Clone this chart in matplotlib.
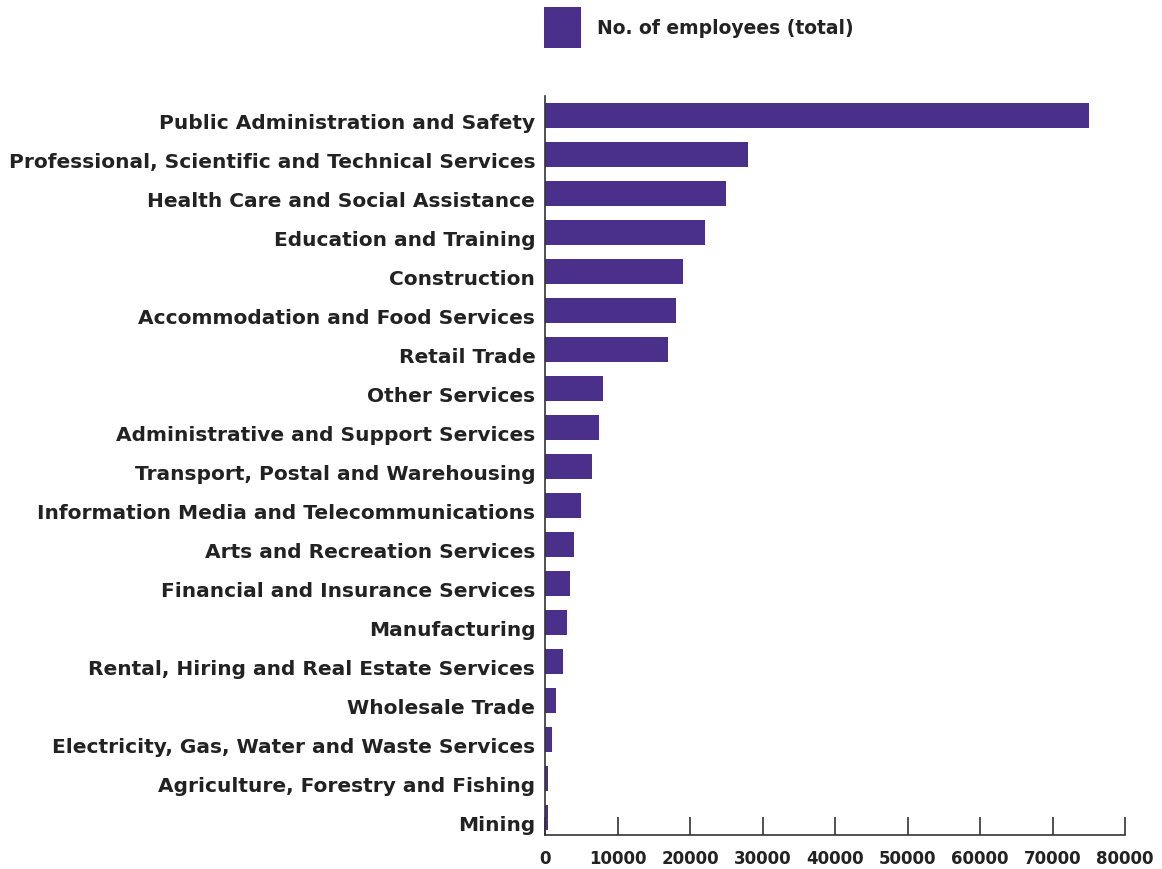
import matplotlib
matplotlib.use("Agg")
import matplotlib.pyplot as plt
import matplotlib.transforms as mtransforms

categories = [
    "Public Administration and Safety",
    "Professional, Scientific and Technical Services",
    "Health Care and Social Assistance",
    "Education and Training",
    "Construction",
    "Accommodation and Food Services",
    "Retail Trade",
    "Other Services",
    "Administrative and Support Services",
    "Transport, Postal and Warehousing",
    "Information Media and Telecommunications",
    "Arts and Recreation Services",
    "Financial and Insurance Services",
    "Manufacturing",
    "Rental, Hiring and Real Estate Services",
    "Wholesale Trade",
    "Electricity, Gas, Water and Waste Services",
    "Agriculture, Forestry and Fishing",
    "Mining",
]
employees = [75000, 28000, 25000, 22000, 19000, 18000, 17000, 8000, 7500, 6500,
             5000, 4000, 3500, 3000, 2500, 1500, 1000, 400, 400]
x_ticks = [0, 10000, 20000, 30000, 40000, 50000, 60000, 70000, 80000]
series_name = "No. of employees (total)"

plt.rcParams['font.family'] = ['DejaVu Sans']
color = "#4a2f8b"
text_color = "#222222"

fig = plt.figure(figsize=(11.62, 8.70), dpi=100)
ax = fig.add_axes([545/1162, 1-836/870, (1125-545)/1162, (836-97)/870])

ypos = list(range(len(categories)))
ax.barh(ypos, employees, height=0.64, color=color, label=series_name)
ax.set_ylim(len(categories) - 1 + 0.45, -0.49)
ax.set_xlim(0, 80000)
ax.set_yticks(ypos)
ax.set_yticklabels(categories, fontsize=14.5, fontweight='bold', color=text_color)
ax.set_xticks(x_ticks)
ax.set_xticklabels([str(t) for t in x_ticks], fontsize=12, fontweight='bold', color=text_color)
ax.tick_params(axis='y', length=0, pad=7)
ax.tick_params(axis='x', direction='in', length=13, width=1.2, color='#333333', pad=10)
offset = mtransforms.ScaledTranslation(0, -5/100, fig.dpi_scale_trans)
for lbl in ax.get_yticklabels():
    lbl.set_transform(lbl.get_transform() + offset)
for s in ['top', 'right']:
    ax.spines[s].set_visible(False)
for s in ['left', 'bottom']:
    ax.spines[s].set_color('#333333')
    ax.spines[s].set_linewidth(1.2)

fig.legend(loc='upper left', bbox_to_anchor=(527/1162, 1+9/870), frameon=False,
           prop={'weight': 'bold', 'size': 13.5}, handlelength=1.98, handleheight=3.0,
           handletextpad=0.85, labelcolor=text_color)

fig.savefig("out.png", dpi=100)
